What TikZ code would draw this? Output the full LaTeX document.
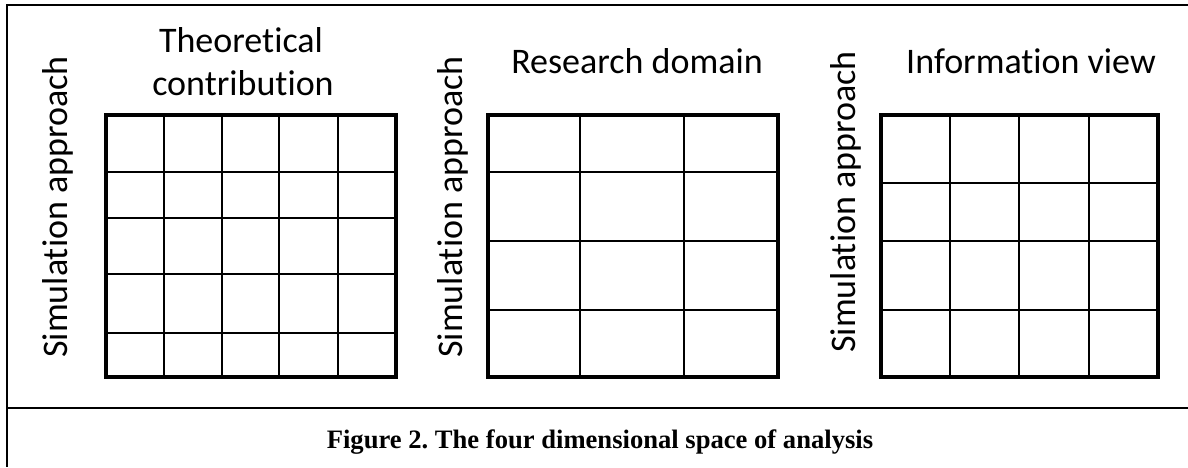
\documentclass[tikz,border=0pt]{standalone}
\usepackage{fontspec}
\setmainfont{Liberation Serif}
\newfontfamily\axisfont[Ligatures=NoCommon]{Carlito}
\usetikzlibrary{positioning}
\frenchspacing
\tikzset{
  frameline/.style={line width=1.3pt},
  gridbox/.style={draw, line width=1.7pt},
  gridline/.style={line width=0.6pt},
  axislabel/.style={
    font=\axisfont\fontsize{18}{21.5}\selectfont,
    inner sep=0pt,
    anchor=base,
  },
  sidelabel/.style={axislabel, rotate=90, anchor=base west},
  figcaption/.style={
    font=\bfseries\fontsize{13.3}{16}\selectfont,
    inner sep=0pt,
    anchor=base,
  },
}

\begin{document}
\begin{tikzpicture}[x=0.5pt,y=-0.5pt]
  \useasboundingbox (0,0) rectangle (1188,467);
  % frame and caption rule
  \coordinate (tl) at (7,5);
  \draw[frameline] (1188,5) -- (tl) -- (7,467);
  \draw[frameline] (7,408) -- (1188,408);

  % theoretical contribution x simulation approach
  \foreach \x in {164,222,279,338}
    \draw[gridline] (\x,115) -- (\x,377);
  \foreach \y in {172,218,274,333}
    \draw[gridline] (106,\y) -- (396,\y);
  \draw[gridbox] (106,115) rectangle (396,377);
  \node[axislabel] (theo) at (241,52) {Theoretical};
  \node[axislabel] (contrib) at (243,95) {contribution};
  \node[sidelabel] (simA) at (67,358) {Simulation approach};

  % research domain x simulation approach
  \foreach \x in {580,684}
    \draw[gridline] (\x,115) -- (\x,377);
  \foreach \y in {172,241,310}
    \draw[gridline] (488,\y) -- (778,\y);
  \draw[gridbox] (488,115) rectangle (778,377);
  \node[axislabel] (domain) at (637,73) {Research domain};
  \node[sidelabel] (simB) at (462,358) {Simulation approach};

  % information view x simulation approach
  \foreach \x in {950,1019,1089}
    \draw[gridline] (\x,115) -- (\x,377);
  \foreach \y in {183,241,310}
    \draw[gridline] (881,\y) -- (1158,\y);
  \draw[gridbox] (881,115) rectangle (1158,377);
  \node[axislabel] (info) at (1031,73) {Information view};
  \node[sidelabel] (simC) at (855,353) {Simulation approach};

  \node[figcaption] (cap) at (600,448) {Figure 2. The four dimensional space of analysis};
\end{tikzpicture}
\end{document}
